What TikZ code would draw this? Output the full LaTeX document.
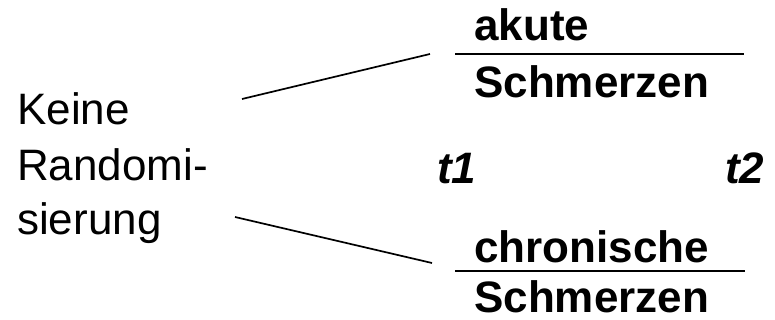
\documentclass[tikz,border=0pt]{standalone}
\usepackage{fontspec}
\setmainfont{Liberation Sans}
\begin{document}
\begin{tikzpicture}[x=1pt,y=-1pt,
  txt/.style={inner sep=0pt, anchor=base west, font=\fontsize{44}{53}\selectfont},
  boldtxt/.style={txt, font=\fontsize{44}{53}\selectfont\bfseries},
  timetxt/.style={txt, font=\fontsize{44}{53}\selectfont\bfseries\itshape},
  link/.style={line width=1.7pt},
  fracrule/.style={line width=2pt}]
\useasboundingbox (0,0) rectangle (775,320);

% left label, one node per line
\node[txt] (keine)   at (17,125) {Keine};
\node[txt] (randomi) at (17,181) {Randomi-};
\node[txt] (sierung) at (17,234) {sierung};

% the two outcome groups, written as fractions
\node[boldtxt] (akute)    at (474,41)  {akute};
\node[boldtxt] (schmerzA) at (474,98)  {Schmerzen};
\node[boldtxt] (chron)    at (474,262) {chronische};
\node[boldtxt] (schmerzC) at (474,312) {Schmerzen};

% time points
\node[timetxt] (t1) at (437,184) {t1};
\node[timetxt] (t2) at (725,184) {t2};

% ends of the branch lines and fraction rules
\coordinate (upFrom)  at (242,99);
\coordinate (upTo)    at (430,54);
\coordinate (lowFrom) at (235,217);
\coordinate (lowTo)   at (432,263);
\coordinate (ruleAL)  at (455,54);
\coordinate (ruleAR)  at (744,54);
\coordinate (ruleCL)  at (455,271);
\coordinate (ruleCR)  at (745,271);

\draw[link] (upFrom) -- (upTo);
\draw[link] (lowFrom) -- (lowTo);
\draw[fracrule] (ruleAL) -- (ruleAR);
\draw[fracrule] (ruleCL) -- (ruleCR);
\end{tikzpicture}
\end{document}
